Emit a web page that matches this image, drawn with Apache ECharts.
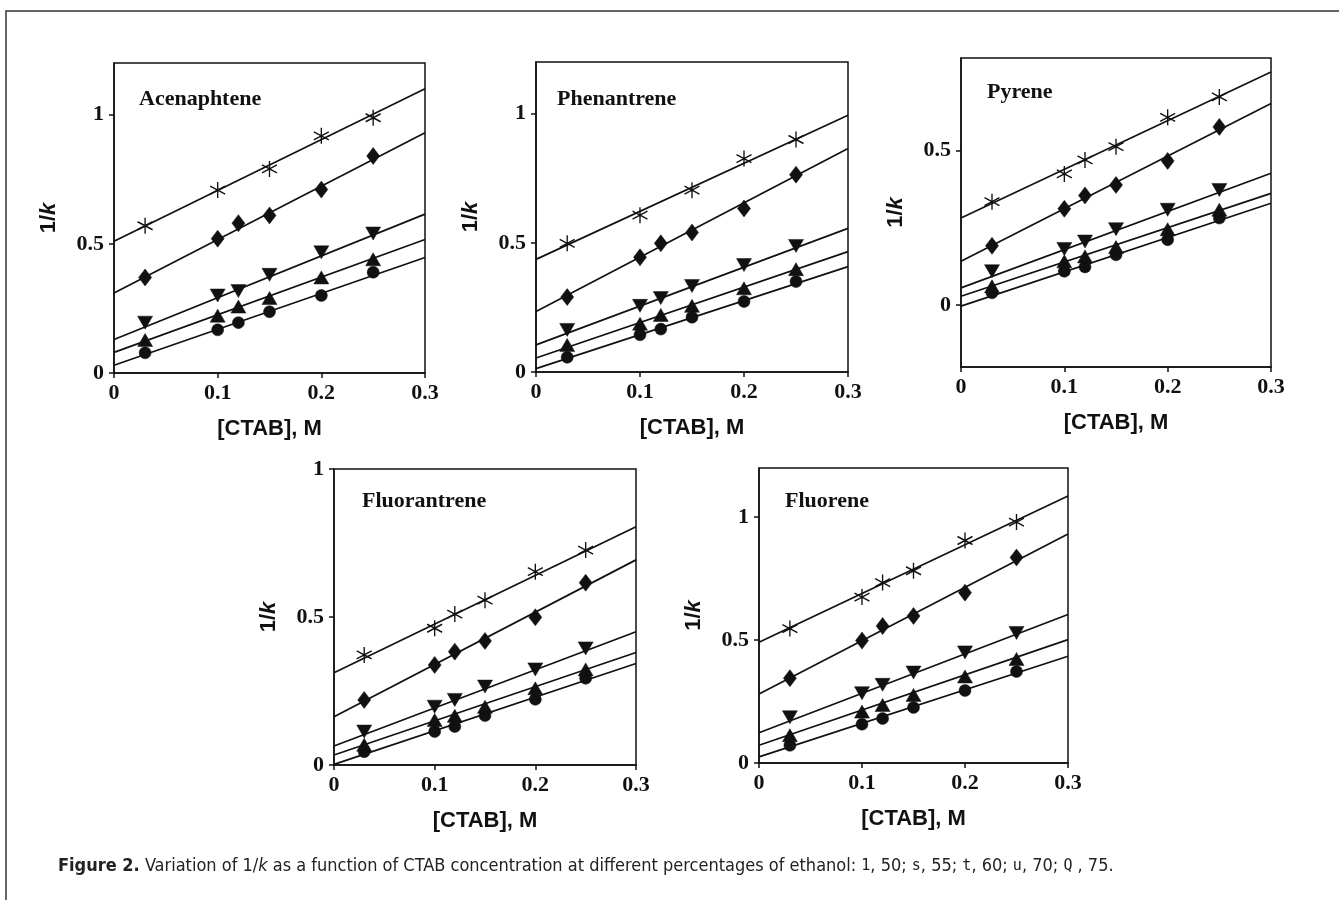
<!DOCTYPE html>
<html>
<head>
<meta charset="utf-8">
<script src="https://cdn.jsdelivr.net/npm/echarts@6/dist/echarts.min.js"></script>
<style>
  html, body { margin: 0; padding: 0; background: #fff; }
  #chart { width: 1339px; height: 900px; }
</style>
</head>
<body>
<div id="chart"></div>
<script>
// CTAB concentration (M) at which 1/k was measured
const ctab = [0.03, 0.10, 0.12, 0.15, 0.20, 0.25];
// ethanol percentages, same order as the rows below
const ethanol = ['50', '55', '60', '70', '75'];
const panelNames = ['Acenaphtene', 'Phenantrene', 'Pyrene', 'Fluorantrene', 'Fluorene'];

// rows: 50 (circle), 55 (up triangle), 60 (down triangle), 70 (diamond), 75 (star)
const acenaphtene = [
  [0.078, 0.167, 0.195, 0.237, 0.30, 0.39],
  [0.128, 0.222, 0.257, 0.29, 0.37, 0.44],
  [0.195, 0.30, 0.317, 0.38, 0.467, 0.54],
  [0.37, 0.52, 0.58, 0.61, 0.71, 0.84],
  [0.57, 0.708, null, 0.79, 0.918, 0.988]
];
const phenantrene = [
  [0.057, 0.144, 0.166, 0.212, 0.273, 0.35],
  [0.105, 0.187, 0.221, 0.256, 0.324, 0.398],
  [0.163, 0.256, 0.286, 0.333, 0.414, 0.488],
  [0.29, 0.444, 0.498, 0.54, 0.633, 0.764],
  [0.498, 0.607, null, 0.704, 0.826, 0.90]
];
const pyrene = [
  [0.04, 0.11, 0.124, 0.163, 0.212, 0.282],
  [0.061, 0.142, 0.158, 0.188, 0.246, 0.309],
  [0.11, 0.182, 0.206, 0.246, 0.309, 0.373],
  [0.192, 0.312, 0.355, 0.389, 0.467, 0.577],
  [0.335, 0.425, 0.47, 0.513, 0.608, 0.674]
];
const fluorantrene = [
  [0.045, 0.113, 0.13, 0.167, 0.222, 0.293],
  [0.068, 0.152, 0.166, 0.197, 0.259, 0.323],
  [0.113, 0.197, 0.22, 0.265, 0.323, 0.394],
  [0.22, 0.338, 0.383, 0.419, 0.499, 0.616],
  [0.372, 0.462, 0.51, 0.557, 0.653, 0.726]
];
const fluorene = [
  [0.072, 0.158, 0.181, 0.226, 0.295, 0.372],
  [0.113, 0.209, 0.236, 0.277, 0.352, 0.423],
  [0.186, 0.284, 0.318, 0.368, 0.45, 0.529],
  [0.345, 0.498, 0.557, 0.598, 0.693, 0.836],
  [0.547, 0.675, 0.734, 0.782, 0.905, 0.98]
];

// fitted lines: 1/k at [CTAB] = 0 and at [CTAB] = 0.3
const fitEnds = [0, 0.3];
const acenaphteneFit = [[0.03, 0.447], [0.08, 0.517], [0.13, 0.615], [0.31, 0.93], [0.51, 1.10]];
const phenantreneFit = [[0.013, 0.408], [0.054, 0.466], [0.105, 0.556], [0.234, 0.865], [0.436, 0.994]];
const pyreneFit = [[-0.003, 0.33], [0.029, 0.362], [0.056, 0.427], [0.142, 0.653], [0.282, 0.755]];
const fluorantreneFit = [[0.002, 0.343], [0.034, 0.38], [0.064, 0.45], [0.163, 0.693], [0.312, 0.805]];
const fluoreneFit = [[0.025, 0.434], [0.072, 0.502], [0.123, 0.604], [0.281, 0.932], [0.491, 1.086]];

// y axis ranges and labelled ticks
const yRanges = [[0, 1.2], [0, 1.2], [-0.2, 0.8], [0, 1], [0, 1.2]];
const yTicks = [[0, 0.5, 1], [0, 0.5, 1], [0, 0.5], [0, 0.5, 1], [0, 0.5, 1]];

const panelData = [acenaphtene, phenantrene, pyrene, fluorantrene, fluorene];
const panelFits = [acenaphteneFit, phenantreneFit, pyreneFit, fluorantreneFit, fluoreneFit];

const grids = [
  { left: 114, top: 63, width: 311, height: 310 },
  { left: 536, top: 62, width: 312, height: 310 },
  { left: 961, top: 58, width: 310, height: 309 },
  { left: 334, top: 469, width: 302, height: 296 },
  { left: 759, top: 468, width: 309, height: 295 }
];
const titlePos = [[139, 88], [557, 88], [987, 81], [362, 490], [785, 490]];

const ink = '#111';
const serif = '"Liberation Serif", "Times New Roman", serif';
const sans = '"Liberation Sans", Arial, sans-serif';
const starPath = 'path://M0,-10L0,10M-8.66,-5L8.66,5M-8.66,5L8.66,-5';
const markers = [
  { symbol: 'circle', size: 12, rotate: 0 },
  { symbol: 'triangle', size: [15, 13], rotate: 0 },
  { symbol: 'triangle', size: [15, 13], rotate: 180 },
  { symbol: 'diamond', size: [13, 17], rotate: 0 },
  { symbol: starPath, size: [15, 16], rotate: 0 }
];

const chart = echarts.init(document.getElementById('chart'));

const series = [];
panelData.forEach((rows, p) => {
  rows.forEach((vals, s) => {
    series.push({
      type: 'line',
      name: ethanol[s],
      xAxisIndex: p,
      yAxisIndex: p,
      data: fitEnds.map((x, i) => [x, panelFits[p][s][i]]),
      symbol: 'none',
      silent: true,
      lineStyle: { color: ink, width: 1.7 },
      z: 2
    });
    series.push({
      type: 'scatter',
      name: ethanol[s],
      xAxisIndex: p,
      yAxisIndex: p,
      data: ctab.map((x, i) => [x, vals[i]]).filter(d => d[1] !== null),
      symbol: markers[s].symbol,
      symbolSize: markers[s].size,
      symbolRotate: markers[s].rotate,
      itemStyle: s === 4
        ? { color: 'rgba(0,0,0,0)', borderColor: ink, borderWidth: 1.4, opacity: 1 }
        : { color: ink, borderColor: ink, borderWidth: 0.5, opacity: 1 },
      z: 3
    });
  });
});

const option = {
  backgroundColor: '#fff',
  animation: false,
  title: panelNames.map((name, p) => ({
    text: name,
    left: titlePos[p][0],
    top: titlePos[p][1],
    padding: 0,
    textStyle: { fontFamily: serif, fontWeight: 'bold', fontSize: 22, color: ink }
  })),
  grid: grids.map(g => Object.assign({ show: true, borderColor: ink, borderWidth: 1.5, backgroundColor: 'transparent' }, g)),
  xAxis: grids.map((g, p) => ({
    type: 'value',
    gridIndex: p,
    min: 0,
    max: 0.3,
    interval: 0.1,
    name: '[CTAB], M',
    nameLocation: 'middle',
    nameGap: 45,
    nameTextStyle: { fontFamily: sans, fontWeight: 'bold', fontSize: 22, color: ink },
    axisLine: { onZero: false, lineStyle: { color: ink, width: 1.5 } },
    axisTick: { inside: false, length: 5, lineStyle: { color: ink, width: 1.5 } },
    axisLabel: {
      margin: 9,
      fontFamily: serif, fontWeight: 'bold', fontSize: 22, color: ink,
      formatter: v => (v === 0 ? '0' : String(+v.toFixed(1)))
    },
    splitLine: { show: false }
  })),
  yAxis: grids.map((g, p) => ({
    type: 'value',
    gridIndex: p,
    min: yRanges[p][0],
    max: yRanges[p][1],
    name: '1/{i|k}',
    nameLocation: 'middle',
    nameGap: 54,
    nameTextStyle: {
      fontFamily: sans, fontWeight: 'bold', fontSize: 22, color: ink,
      rich: { i: { fontFamily: sans, fontWeight: 'bold', fontStyle: 'italic', fontSize: 22, color: ink } }
    },
    axisLine: { onZero: false, lineStyle: { color: ink, width: 1.5 } },
    axisTick: { inside: false, length: 5, customValues: yTicks[p], lineStyle: { color: ink, width: 1.5 } },
    axisLabel: {
      margin: 10,
      customValues: yTicks[p],
      fontFamily: serif, fontWeight: 'bold', fontSize: 22, color: ink,
      formatter: v => String(v)
    },
    splitLine: { show: false }
  })),
  graphic: [
    {
      type: 'polyline',
      shape: { points: [[6, 900], [6, 11], [1339, 11]] },
      style: { stroke: '#333', lineWidth: 1.5, fill: null },
      silent: true
    },
    {
      type: 'text',
      left: 58,
      top: 857,
      silent: true,
      style: {
        text: '{b|Figure 2.} Variation of 1/{i|k} as a function of CTAB concentration at different percentages of ethanol: {m|1}, 50; {m|s}, 55; {m|t}, 60; {m|u}, 70; {m|Q} , 75.',
        fontFamily: '"Liberation Sans Narrow", "DejaVu Sans Condensed", sans-serif',
        fontSize: 18,
        fill: '#222',
        rich: {
          b: { fontFamily: '"Liberation Sans Narrow", "DejaVu Sans Condensed", sans-serif', fontWeight: 'bold', fontSize: 18, fill: '#222' },
          i: { fontFamily: '"Liberation Sans Narrow", "DejaVu Sans Condensed", sans-serif', fontStyle: 'italic', fontSize: 18, fill: '#222' },
          m: { fontFamily: '"DejaVu Sans Mono", monospace', fontSize: 15, fill: '#222' }
        }
      }
    }
  ],
  series: series
};

chart.setOption(option);
</script>
</body>
</html>
